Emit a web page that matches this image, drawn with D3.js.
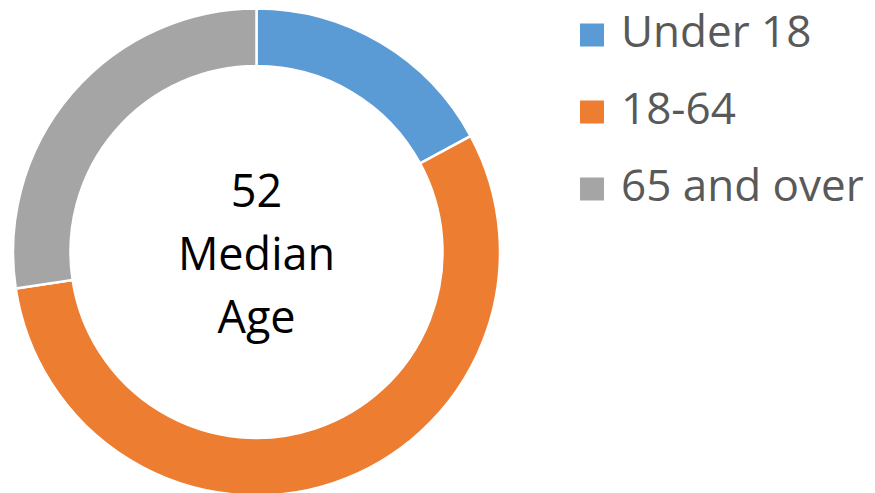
<!DOCTYPE html>
<html lang="en">
<head>
  <meta charset="UTF-8">
  <title>Median Age</title>
  <script src="https://d3js.org/d3.v7.min.js"></script>
  <style>
    body {
      margin: 0;
      background: #fff;
      font-family: "Open Sans", sans-serif;
    }
    .legend text {
      font-size: 44px;
      fill: #595959;
    }
    .center text {
      font-size: 45px;
      fill: #000;
    }
  </style>
</head>
<body>
  <div id="chart"></div>

  <script>
    const categories = ["Under 18", "18-64", "65 and over"];
    const shares = [17.1, 55.5, 27.4];
    const colors = ["#5B9BD5", "#ED7D31", "#A5A5A5"];
    const centerLines = ["52", "Median", "Age"];

    const width = 875;
    const height = 493;

    const svg = d3.select("#chart")
      .append("svg")
      .attr("width", width)
      .attr("height", height);

    const cx = 256.5, cy = 252;
    const outerR = 243.5, innerR = 186;

    const color = d3.scaleOrdinal().domain(categories).range(colors);

    const pie = d3.pie()
      .sort(null)
      .value(d => d.value);

    const arc = d3.arc()
      .innerRadius(innerR)
      .outerRadius(outerR);

    const data = categories.map((c, i) => ({ name: c, value: shares[i] }));

    const g = svg.append("g")
      .attr("transform", `translate(${cx},${cy})`);

    g.selectAll("path")
      .data(pie(data))
      .enter()
      .append("path")
      .attr("d", arc)
      .attr("fill", d => color(d.data.name))
      .attr("stroke", "#fff")
      .attr("stroke-width", 2.5);

    // center label
    const center = g.append("g").attr("class", "center");
    center.selectAll("text")
      .data(centerLines)
      .enter()
      .append("text")
      .attr("text-anchor", "middle")
      .attr("x", 0)
      .attr("y", (d, i) => -45 + i * 63)
      .text(d => d);

    // legend
    const rowY = d3.scalePoint().domain(categories).range([35, 189]);

    const legend = svg.append("g").attr("class", "legend");
    const item = legend.selectAll("g")
      .data(categories)
      .enter()
      .append("g")
      .attr("transform", d => `translate(580,${rowY(d)})`);

    item.append("rect")
      .attr("x", 0)
      .attr("y", -11.5)
      .attr("width", 24)
      .attr("height", 23)
      .attr("fill", d => color(d));

    item.append("text")
      .attr("x", 41)
      .attr("y", 12)
      .text(d => d);
  </script>
</body>
</html>
